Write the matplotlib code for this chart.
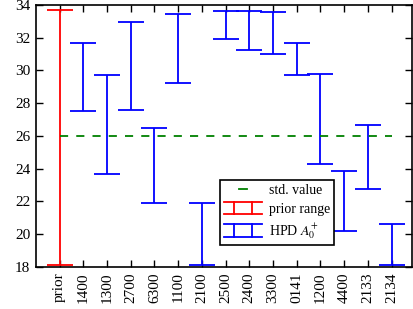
import matplotlib
matplotlib.use('Agg')
import matplotlib.pyplot as plt
from matplotlib.legend_handler import HandlerBase
from matplotlib.lines import Line2D

# categorias e intervalos
labels = ['prior', '1400', '1300', '2700', '6300', '1100', '2100', '2500',
          '2400', '3300', '0141', '1200', '4400', '2133', '2134']
lower = [18.15, 27.5, 23.7, 27.6, 21.9, 29.25, 18.15, 31.95,
         31.25, 31.0, 29.7, 24.3, 20.2, 22.75, 18.15]
upper = [33.7, 31.7, 29.7, 32.95, 26.5, 33.45, 21.9, 33.65,
         33.6, 33.55, 31.7, 29.8, 23.85, 26.65, 20.6]
std_value = 26.0

plt.rcParams['font.family'] = ['Liberation Serif', 'DejaVu Serif']
plt.rcParams['mathtext.fontset'] = 'stix'


class HandlerRange(HandlerBase):
    def __init__(self, color):
        super().__init__()
        self.color = color

    def create_artists(self, legend, orig_handle, xdescent, ydescent,
                       width, height, fontsize, trans):
        y0, y1 = -ydescent - 0.15 * height, -ydescent + 1.15 * height
        x0, x1 = -xdescent, -xdescent + width
        arts = [Line2D([x0, x1], [y0, y0]), Line2D([x0, x1], [y1, y1]),
                Line2D([x0 + 0.25 * width] * 2, [y0, y1]),
                Line2D([x0 + 0.75 * width] * 2, [y0, y1])]
        for a in arts:
            a.set_color(self.color)
            a.set_linewidth(1.3)
            a.set_transform(trans)
        return arts


class HandlerStd(HandlerBase):
    def create_artists(self, legend, orig_handle, xdescent, ydescent,
                       width, height, fontsize, trans):
        yc = -ydescent + height / 2
        l = Line2D([-xdescent + 0.4 * width, -xdescent + 0.6 * width], [yc, yc],
                   color='green', linewidth=1.3, transform=trans)
        return [l]


fig = plt.figure(figsize=(4.13, 3.09), dpi=100)
ax = fig.add_axes([0.087, 0.136, 0.91, 0.848])

x = list(range(len(labels)))
for i in x:
    cor = 'red' if labels[i] == 'prior' else 'blue'
    mid = (lower[i] + upper[i]) / 2
    half = (upper[i] - lower[i]) / 2
    ax.errorbar(i, mid, yerr=half, fmt='none', ecolor=cor, elinewidth=1.3,
                capsize=9.5, capthick=1.3)

ax.plot([0, len(labels) - 1], [std_value, std_value], color='green',
        linestyle=(0, (4.5, 4.5)), linewidth=1.3)

ax.set_xlim(-1, len(labels) - 0.15)
ax.set_ylim(18, 34)
ax.set_xticks(x)
ax.set_xticklabels(labels, rotation=90)
ax.set_yticks(range(18, 35, 2))
ax.tick_params(direction='in', top=True, right=True, length=5, width=1,
               labelsize=11, pad=4)
for s in ax.spines.values():
    s.set_linewidth(1.2)

h_std = Line2D([], [], color='green', linewidth=1.3)
h_prior = object()
h_hpd = object()

leg = ax.legend([h_std, h_prior, h_hpd],
                ['std. value', 'prior range', r'HPD $A_0^{+}$'],
                handler_map={h_std: HandlerStd(), h_prior: HandlerRange('red'),
                             h_hpd: HandlerRange('blue')},
                loc='lower left', bbox_to_anchor=(0.49, 0.083), fontsize=10,
                fancybox=False, framealpha=1, edgecolor='black',
                handlelength=2.7, handletextpad=0.5, borderpad=0.3,
                labelspacing=0.4, borderaxespad=0)
leg.get_frame().set_linewidth(1.2)

plt.savefig('out.png', dpi=100)
plt.close()
